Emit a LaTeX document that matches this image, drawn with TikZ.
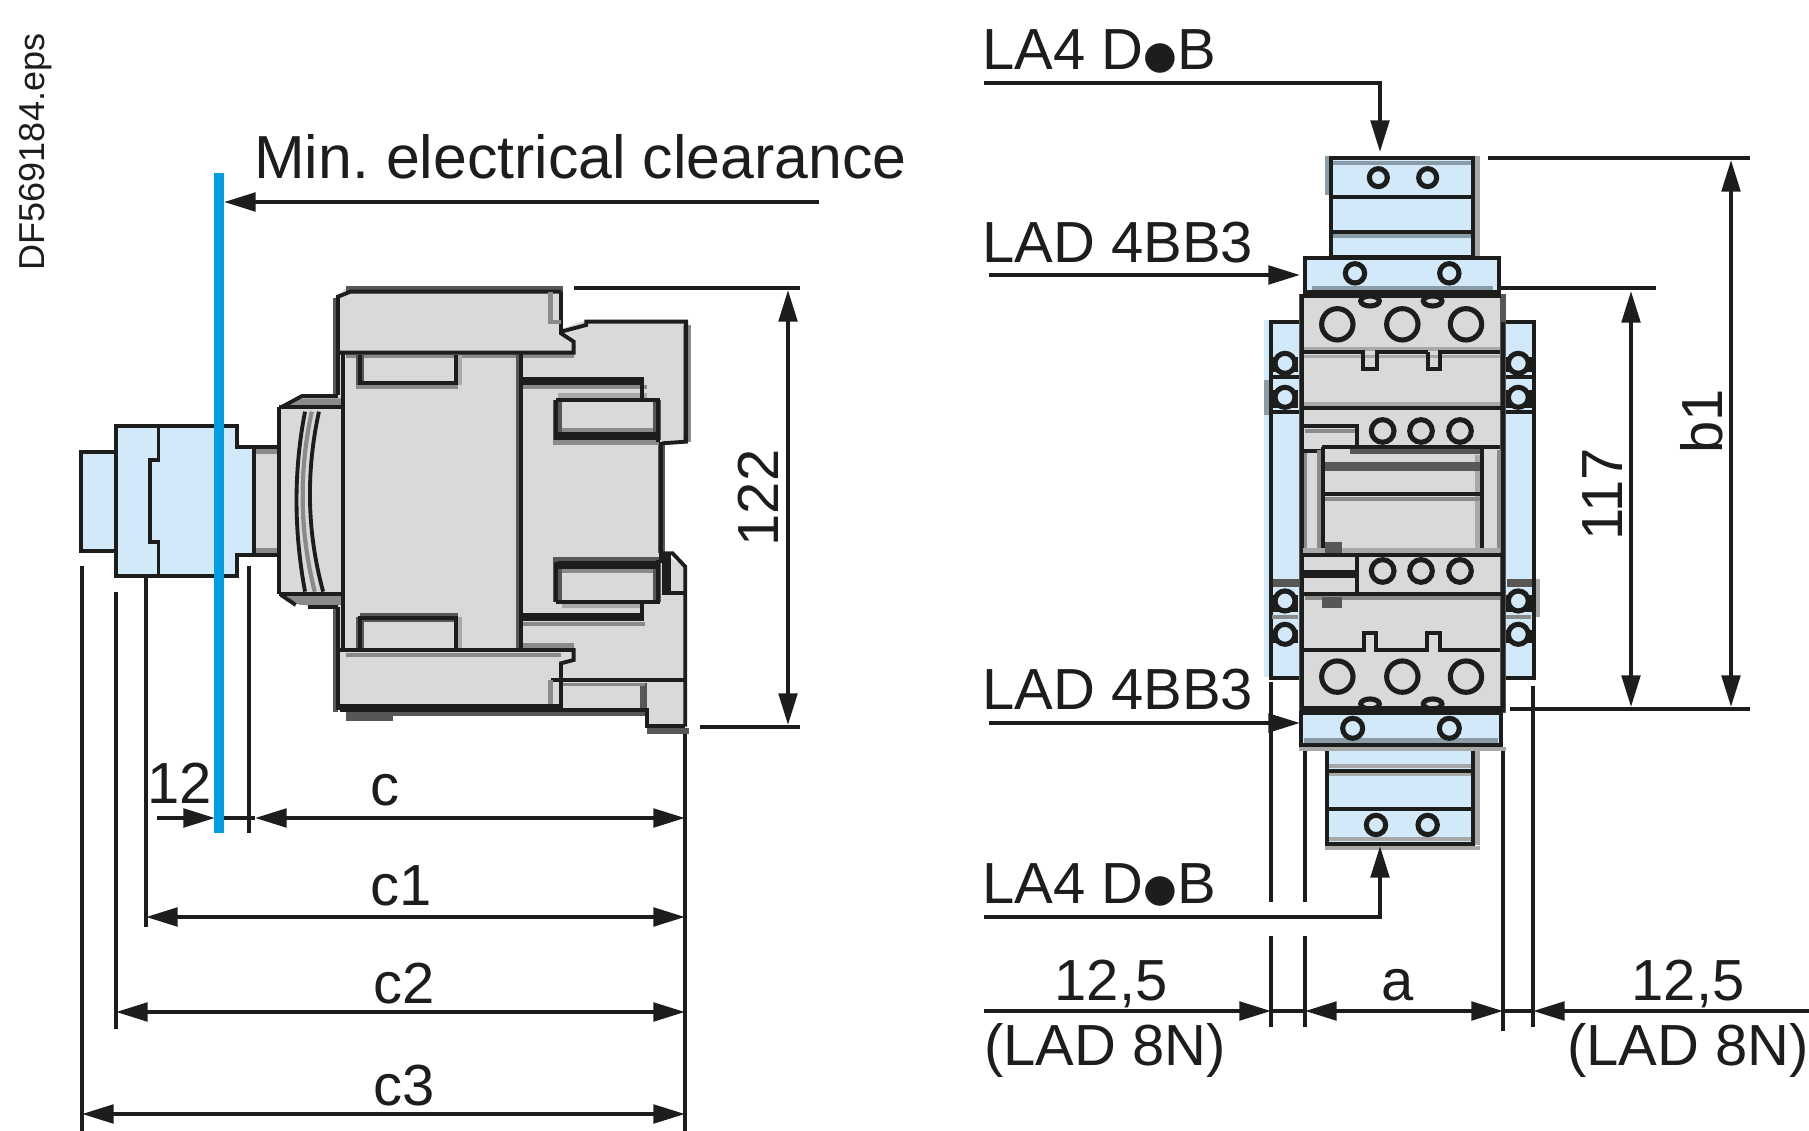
\documentclass[tikz,border=0pt]{standalone}
\usepackage{fontspec}
\setmainfont{Liberation Sans}
\newfontfamily\dvfont{DejaVu Sans}
\usetikzlibrary{arrows.meta}
\definecolor{ink}{HTML}{1D1D1B}
\definecolor{pale}{HTML}{D2E9FA}
\definecolor{bodygrey}{HTML}{D9D9D9}
\definecolor{midgrey}{HTML}{8A8A8A}
\definecolor{darkgrey}{HTML}{575756}
\definecolor{lightshade}{HTML}{A8A8A8}
\definecolor{blueshade}{HTML}{8A9CA8}
\definecolor{barblue}{HTML}{009FE3}
\newcommand{\LAdot}{\raisebox{0.02em}{\fontsize{22}{24}\dvfont ●}}
\tikzset{
  ln/.style={draw=ink,line width=2.2pt},
  fat ln/.style={draw=ink,line width=4.6pt},
  shade ln/.style={draw=midgrey,line width=2.4pt},
  dimline/.style={ln,{Triangle[length=18pt,width=10.5pt]}-{Triangle[length=18pt,width=10.5pt]}},
  leader/.style={ln,-{Triangle[length=18pt,width=10.5pt]}},
  lab/.style={inner sep=0pt,text=ink,font=\fontsize{33}{38}\selectfont},
  labw/.style={lab,anchor=base west},
  labc/.style={lab,anchor=base},
  labr/.style={lab,anchor=base,rotate=90},
  hole/.style={draw=ink,line width=2.9pt,fill=pale},
  contact/.style={draw=ink,line width=2.9pt,fill=bodygrey},
}
\begin{document}
\begin{tikzpicture}[x=0.02cm,y=-0.02cm]
\useasboundingbox (0,0) rectangle (1809,1131);
% ---------- left view, extension lines
\foreach \n/\x/\a/\b in {e1/82/566/1131,e2/116/592/1029,e3/146/553/927,e4/249/566/833,e5/685/733/1131}
  {\coordinate (\n a) at (\x,\a); \coordinate (\n b) at (\x,\b); \draw[ln] (\n a) -- (\n b);}
% ---------- left device
\begin{scope}[shift={(60,270)},x=0.008418cm,y=-0.006667cm]
  % body silhouette
  \fill[bodygrey] (660,80)--(680,52)--(1195,52)--(1195,175)--(1250,150)--(1490,150)--(1490,515)--(1430,525)--(1430,850)--(1485,890)--(1485,1370)--(1395,1370)--(1390,1325)--(680,1325)--(660,1310)--(660,1010)--(590,1010)--(520,975)--(520,412)--(575,375)--(660,375)--cycle;
  \fill[bodygrey] (460,532) rectangle (520,852);
  % shades
  \fill[midgrey] (465,537) rectangle (515,552);
  \fill[midgrey] (465,835) rectangle (515,850);
  \fill[midgrey] (530,408)--(575,385)--(670,385)--(670,408)--cycle;
  \fill[midgrey] (530,978)--(570,1005)--(670,1005)--(670,978)--cycle;
  \fill[darkgrey] (680,48) rectangle (1195,66);
  \fill[darkgrey] (680,1325) rectangle (790,1352);
  \fill[darkgrey] (790,1325) rectangle (1395,1338);
  \fill[midgrey] (680,250) rectangle (1220,265);
  \fill[midgrey] (680,1150) rectangle (1190,1160);
  \fill[darkgrey] (1083,255) rectangle (1090,1135);
  \fill[darkgrey] (1420,525) rectangle (1437,850);
  \fill[darkgrey] (702,255) rectangle (722,345);
  \fill[midgrey] (702,345) rectangle (945,357);
  \fill[darkgrey] (702,1042) rectangle (722,1135);
  \fill[darkgrey] (712,1030) rectangle (945,1055);
  \fill[lightshade] (945,255) rectangle (955,345);
  \fill[lightshade] (945,1040) rectangle (955,1135);
  \fill[midgrey] (1095,345) rectangle (1395,358);
  \fill[lightshade] (1183,370) rectangle (1395,385);
  \fill[midgrey] (1183,473) rectangle (1420,488);
  \fill[midgrey] (1172,510) rectangle (1425,524);
  \fill[darkgrey] (1172,390) rectangle (1192,510);
  \fill[darkgrey] (1408,390) rectangle (1428,510);
  \fill[darkgrey] (1172,862) rectangle (1425,875);
  \fill[midgrey] (1183,898) rectangle (1420,910);
  \fill[darkgrey] (1172,875) rectangle (1192,995);
  \fill[darkgrey] (1408,875) rectangle (1428,995);
  \fill[lightshade] (1192,1002) rectangle (1378,1015);
  \fill[midgrey] (1100,1055) rectangle (1390,1068);
  \fill[midgrey] (1100,1120) rectangle (1220,1135);
  \fill[darkgrey] (1378,1240) rectangle (1395,1320);
  \fill[midgrey] (1190,1240) rectangle (1390,1248);
  \fill[darkgrey] (648,85) rectangle (660,375);
  \fill[darkgrey] (648,1010) rectangle (660,1325);
  \fill[midgrey] (1480,165) rectangle (1498,515);
  \fill[bodygrey] (1395,1325) rectangle (1485,1372);
  \fill[darkgrey] (1395,1375) rectangle (1495,1392);
  % blue parts
  \draw[ln,fill=pale] (50,545) rectangle (133,842);
  \draw[ln,fill=pale] (133,468)--(420,468)--(420,530)--(460,530)--(460,855)--(420,855)--(420,918)--(133,918)--cycle;
  \draw[ln] (234,468)--(234,570)--(214,570)--(214,815)--(234,815)--(234,918);
  % flange
  \draw[ln] (460,530)--(520,530);
  \draw[ln] (460,855)--(520,855);
  \draw[ln] (520,412)--(672,412);
  \draw[ln] (520,972)--(672,972);
  \draw[ln] (520,412)--(520,972);
  \draw[ln] (525,412)--(575,378)--(660,378);
  \draw[ln] (590,1010)--(660,1010);
  \draw[ln] (525,975)--(560,1005);
  \draw[ln] (582,425) .. controls (555,600) and (555,780) .. (582,965);
  \draw[ln] (615,425) .. controls (585,600) and (585,780) .. (625,965);
  \draw[shade ln] (598,425) .. controls (568,600) and (568,780) .. (605,965);
  % top cover
  \draw[ln] (660,375)--(660,80)--(690,65)--(1190,65);
  \draw[ln] (1190,65)--(1190,190)--(1220,215)--(1220,248)--(660,248);
  \draw[shade ln] (1165,65)--(1165,155)--(1190,155);
  \draw[ln] (1190,185)--(1250,165)--(1250,155)--(1487,155)--(1487,515)--(1430,520);
  % body verticals
  \draw[ln] (672,248)--(672,1140);
  \draw[ln] (1095,248)--(1095,1140);
  \draw[ln] (712,255)--(712,338)--(940,338)--(940,255);
  \draw[ln] (712,1135)--(712,1045)--(940,1045)--(940,1135);
  % rear, upper
  \draw[fat ln] (1095,332)--(1387,332);
  \draw[ln] (1383,332)--(1383,390);
  \draw[ln] (1178,390)--(1425,390);
  \draw[ln] (1178,390)--(1178,510);
  \draw[ln] (1420,390)--(1420,515);
  \draw[fat ln] (1183,498)--(1420,498);
  \draw[ln] (1428,515)--(1428,880);
  % rear, lower
  \draw[fat ln] (1183,886)--(1420,886);
  \draw[ln] (1178,875)--(1178,995);
  \draw[ln] (1420,870)--(1420,995);
  \draw[ln] (1178,995)--(1425,995);
  \draw[ln] (1383,995)--(1383,1042);
  \draw[fat ln] (1095,1042)--(1387,1042);
  % nib
  \fill[ink] (1430,855) rectangle (1450,970);
  \draw[ln] (1430,850)--(1455,850)--(1485,890)--(1485,1370);
  \draw[ln] (1430,970)--(1485,970);
  % bottom cover
  \draw[ln] (660,1010)--(660,1320);
  \draw[ln] (660,1140)--(1220,1140)--(1220,1170)--(1190,1180)--(1190,1320);
  \draw[ln] (1165,1230)--(1485,1230);
  \draw[shade ln] (1165,1230)--(1165,1315);
  \draw[fat ln] (665,1314)--(1190,1314);
  \draw[ln] (1190,1320)--(1395,1320)--(1395,1368)--(1485,1368);
\end{scope}
% ---------- clearance bar and its label
\node[lab,anchor=base west,font=\fontsize{34.6}{40}\selectfont] (minclear) at (254,179) {Min.\ electrical clearance};
\coordinate (barT) at (219,173); \coordinate (barB) at (219,833);
\coordinate (clearS) at (819,202); \coordinate (clearE) at (224,202);
\draw[leader] (clearS) -- (clearE);
% ---------- left dimensions
\coordinate (d12S) at (157,818); \coordinate (d12T) at (215,818); \coordinate (dcT) at (255,818); \coordinate (dcE) at (685,818);
\draw[leader] (d12S) -- (d12T);
\draw[ln] (d12T) -- (dcT);
\draw[dimline] (dcT) -- (dcE);
\draw[line width=5.69pt,barblue] (barT) -- (barB);
\coordinate (dc1a) at (146,917); \coordinate (dc1b) at (685,917);
\draw[dimline] (dc1a) -- (dc1b);
\coordinate (dc2a) at (116,1012); \coordinate (dc2b) at (685,1012);
\draw[dimline] (dc2a) -- (dc2b);
\coordinate (dc3a) at (82,1114); \coordinate (dc3b) at (685,1114);
\draw[dimline] (dc3a) -- (dc3b);
\node[labc] (t12) at (180,803) {12};
\node[labc] (tc) at (385,805) {c};
\node[labc] (tc1) at (401,905) {c1};
\node[labc] (tc2) at (404,1003) {c2};
\node[labc] (tc3) at (404,1105) {c3};
\coordinate (h1a) at (574,288); \coordinate (h1b) at (800,288);
\coordinate (h2a) at (700,727); \coordinate (h2b) at (800,727);
\draw[ln] (h1a) -- (h1b); \draw[ln] (h2a) -- (h2b);
\coordinate (d122a) at (788,290); \coordinate (d122b) at (788,725);
\draw[dimline] (d122a) -- (d122b);
\node[labr] (t122) at (778,498) {122};
\node[inner sep=0pt,text=ink,font=\fontsize{20.5}{24}\selectfont,rotate=90,anchor=base] (tfile) at (44,152) {DF569184.eps};
% ---------- right view: extension lines
\foreach \n/\x/\a/\b/\c/\d in {f1/1271/682/902/936/1027,f2/1305/750/902/936/1027}
  {\coordinate (\n a) at (\x,\a); \coordinate (\n b) at (\x,\b); \coordinate (\n c) at (\x,\c); \coordinate (\n d) at (\x,\d);
   \draw[ln] (\n a) -- (\n b); \draw[ln] (\n c) -- (\n d);}
\coordinate (f3a) at (1503,750); \coordinate (f3b) at (1503,1031); \draw[ln] (f3a) -- (f3b);
\coordinate (f4a) at (1533,686); \coordinate (f4b) at (1533,1027); \draw[ln] (f4a) -- (f4b);
% ---------- right device
\begin{scope}[shift={(1240,140)},x=0.006667cm,y=-0.006667cm]
  % side blocks
  \fill[pale] (72,540) rectangle (93,1610);
  \fill[blueshade] (72,720) rectangle (90,825);
  \draw[ln,fill=pale] (93,545) rectangle (185,1613);
  \draw[ln,fill=pale] (790,545) rectangle (882,1613);
  \fill[lightshade] (888,1318) rectangle (900,1430);
  \fill[darkgrey] (98,1318) rectangle (178,1340);
  \fill[darkgrey] (800,1318) rectangle (875,1340);
  \foreach \xx in {135,835}{
    \fill[ink] (\xx-40,650) rectangle (\xx+40,695);
    \fill[ink] (\xx-40,750) rectangle (\xx+40,805);
    \fill[ink] (\xx-40,1365) rectangle (\xx+40,1415);
    \fill[ink] (\xx-40,1470) rectangle (\xx+40,1510);
    \draw[ln] (\xx-42,712)--(\xx+42,712);
    \draw[ln] (\xx-42,815)--(\xx+42,815);
    \draw[shade ln] (\xx-38,1432)--(\xx+38,1432);
    \foreach \yy in {670,772,1383,1483}{
      \draw[hole] (\xx,\yy) circle (30);
    }
  }
  % grey body
  \fill[darkgrey] (178,462) rectangle (798,1720);
  \fill[bodygrey] (190,465) rectangle (780,1700);
  \fill[lightshade] (190,620) rectangle (780,632);
  \fill[lightshade] (190,645) rectangle (780,655);
  \fill[lightshade] (190,785) rectangle (780,798);
  \draw[ln] (185,462)--(185,1715);
  \draw[ln] (790,545)--(790,1715);
  \draw[ln] (190,637)--(370,637)--(370,688)--(412,688)--(412,637)--(565,637);
  \draw[ln] (565,637)--(565,688)--(600,688)--(600,637)--(780,637);
  \draw[ln] (185,805)--(785,805);
  \foreach \xx in {292,487,678}{
    \draw[contact] (\xx,553) circle (47);
    \draw[contact] (\xx,1610) circle (47);
  }
  \foreach \xx in {428,543,660}{
    \draw[contact] (\xx,873) circle (34);
    \draw[contact] (\xx,1293) circle (34);
  }
  % upper switch window
  \draw[ln] (190,858)--(350,858)--(350,925);
  \fill[midgrey] (195,868) rectangle (345,878);
  \fill[darkgrey] (330,915) rectangle (720,941);
  \draw[ln] (190,933)--(245,933);
  \draw[ln] (245,921)--(780,921);
  \draw[ln] (248,921)--(248,1240);
  \draw[ln] (727,921)--(727,1240);
  \fill[midgrey] (192,940) rectangle (202,1235);
  \fill[midgrey] (230,930) rectangle (242,1235);
  \fill[lightshade] (705,945) rectangle (720,1235);
  \fill[midgrey] (770,930) rectangle (782,1235);
  \fill[darkgrey] (255,965) rectangle (720,992);
  \draw[ln] (248,1063)--(727,1063);
  \fill[midgrey] (255,1070) rectangle (720,1083);
  \fill[lightshade] (190,1225) rectangle (780,1240);
  \draw[ln] (185,1245)--(785,1245);
  \fill[darkgrey] (255,1205) rectangle (305,1240);
  \draw[fat ln] (190,1303)--(350,1303);
  \draw[ln] (350,1250)--(350,1360);
  \draw[ln] (185,1362)--(785,1362);
  \fill[midgrey] (195,1368) rectangle (780,1380);
  \fill[darkgrey] (245,1370) rectangle (305,1405);
  % lower notches
  \draw[ln] (190,1530)--(372,1530)--(372,1478)--(408,1478)--(408,1530)--(560,1530)--(560,1478)--(600,1478)--(600,1530)--(780,1530);
  % small half circles
  \foreach \xx in {390,578}{
    \draw[contact] (\xx,483) ellipse (28 and 15);
    \draw[contact] (\xx,1692) ellipse (28 and 15);
  }
  % top stack
  \fill[blueshade] (255,48) rectangle (268,165);
  \fill[lightshade] (705,48) rectangle (720,350);
  \draw[ln,fill=pale] (272,55) rectangle (700,350);
  \fill[blueshade] (278,64) rectangle (694,74);
  \fill[blueshade] (278,283) rectangle (694,293);
  \draw[ln] (272,172)--(700,172);
  \draw[ln] (272,276)--(700,276);
  \foreach \xx in {415,563}{\draw[hole] (\xx,113) circle (27);}
  % top bridge
  \draw[ln,fill=pale] (195,354) rectangle (778,462);
  \fill[blueshade] (215,438) rectangle (760,450);
  \fill[ink] (190,450) rectangle (782,473);
  \foreach \xx in {345,628}{\draw[hole] (\xx,400) circle (29);}
  % bottom stack
  \fill[lightshade] (705,1815) rectangle (720,2115);
  \fill[darkgrey] (258,2010) rectangle (275,2100);
  \fill[lightshade] (255,2118) rectangle (720,2130);
  \draw[ln,fill=pale] (262,1815) rectangle (700,2112);
  \fill[lightshade] (268,1872) rectangle (694,1884);
  \fill[lightshade] (268,1898) rectangle (694,1908);
  \fill[lightshade] (268,2092) rectangle (694,2104);
  \draw[ln] (262,1893)--(700,1893);
  \draw[ln] (262,2006)--(700,2006);
  \foreach \xx in {408,563}{\draw[hole] (\xx,2055) circle (29);}
  % bottom bridge
  \fill[lightshade] (178,1822) rectangle (798,1833);
  \draw[ln,fill=pale] (183,1718) rectangle (783,1815);
  \fill[ink] (180,1697) rectangle (785,1725);
  \fill[blueshade] (192,1795) rectangle (775,1808);
  \foreach \xx in {338,628}{\draw[hole] (\xx,1765) circle (30);}
\end{scope}
% ---------- right labels and leaders
\node[labw] (la1) at (982,70) {LA4 D\LAdot B};
\node[labw] (lad1) at (982,263) {LAD 4BB3};
\node[labw] (lad2) at (982,709) {LAD 4BB3};
\node[labw] (la2) at (982,903) {LA4 D\LAdot B};
\coordinate (la1s) at (984,83); \coordinate (la1c) at (1380,83); \coordinate (la1t) at (1380,152);
\draw[leader] (la1s) -- (la1c) -- (la1t);
\coordinate (la2s) at (984,917); \coordinate (la2c) at (1380,917); \coordinate (la2t) at (1380,846);
\draw[leader] (la2s) -- (la2c) -- (la2t);
\coordinate (lad1s) at (989,275); \coordinate (lad1t) at (1300,275);
\draw[leader] (lad1s) -- (lad1t);
\coordinate (lad2s) at (989,723); \coordinate (lad2t) at (1300,723);
\draw[leader] (lad2s) -- (lad2t);
% ---------- right dimensions
\coordinate (g1a) at (1488,158); \coordinate (g1b) at (1750,158); \draw[ln] (g1a) -- (g1b);
\coordinate (g2a) at (1500,288); \coordinate (g2b) at (1656,288); \draw[ln] (g2a) -- (g2b);
\coordinate (g3a) at (1510,709); \coordinate (g3b) at (1750,709); \draw[ln] (g3a) -- (g3b);
\coordinate (d117a) at (1631,291); \coordinate (d117b) at (1631,707); \draw[dimline] (d117a) -- (d117b);
\coordinate (db1a) at (1731,160); \coordinate (db1b) at (1731,707); \draw[dimline] (db1a) -- (db1b);
\node[labr] (t117) at (1622,494) {117};
\node[labr] (tb1) at (1722,421) {b1};
\coordinate (k1) at (984,1011); \coordinate (k2) at (1271,1011);
\draw[leader] (k1) -- (k2);
\draw[ln] (k2) -- (f2c |- k2);
\coordinate (k3) at (1305,1011); \coordinate (k4) at (1503,1011);
\draw[dimline] (k3) -- (k4);
\coordinate (k5) at (1809,1011); \coordinate (k6) at (1533,1011);
\draw[leader] (k5) -- (k6);
\draw[ln] (k4) -- (k6);
\node[labc] (t125a) at (1111,1000) {12,5};
\node[labc] (ta) at (1398,1000) {a};
\node[labc] (t125b) at (1688,1000) {12,5};
\node[labw] (t8a) at (984,1065) {(LAD 8N)};
\node[labw] (t8b) at (1567,1065) {(LAD 8N)};
\end{tikzpicture}
\end{document}
